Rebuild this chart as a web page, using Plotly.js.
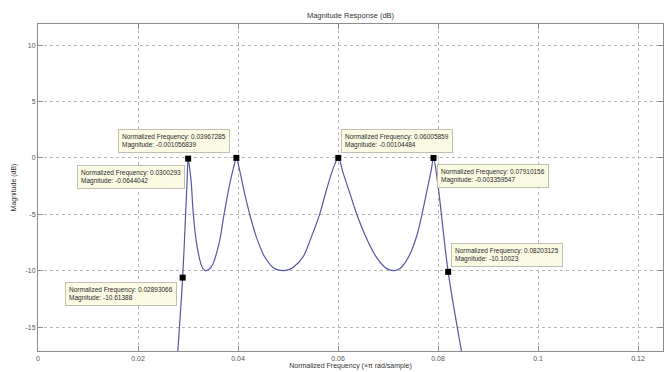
<!DOCTYPE html>
<html>
<head>
<meta charset="utf-8">
<script src="https://cdn.plot.ly/plotly-3.0.1.min.js"></script>
<style>
  html, body { margin: 0; padding: 0; background: #ffffff; }
  #chart { width: 666px; height: 372px; }
</style>
</head>
<body>
<div id="chart"></div>
<script>
// Magnitude response curve
const freq = [
  0.02790, 0.02893066, 0.02952, 0.02983, 0.0300293,
  0.03038, 0.03066, 0.03106, 0.03172, 0.03255, 0.03303, 0.03353, 0.03423, 0.03488, 0.03621, 0.03722, 0.03823, 0.03923, 0.03967285,
  0.04032, 0.04132, 0.04233, 0.04366, 0.04532, 0.04700, 0.04800, 0.04900, 0.05000, 0.05101, 0.05301, 0.05468, 0.05634, 0.05769, 0.05904, 0.06005859,
  0.06105, 0.06238, 0.06373, 0.06540, 0.06741, 0.06943, 0.07032, 0.07112, 0.07192, 0.07279, 0.07446, 0.07580, 0.07681, 0.07782, 0.07865, 0.07910156,
  0.07995, 0.08203125, 0.08485
];
const magnitude = [
  -17.5, -10.61388, -5.0, -2.0, -0.0644042,
  -1.08, -2.26, -4.98, -7.58, -9.35, -9.84, -10.0, -9.87, -9.5, -7.58, -4.98, -2.56, -0.64, -0.001056839,
  -1.08, -3.15, -4.98, -7.0, -8.77, -9.71, -9.93, -10.0, -9.93, -9.71, -8.77, -7.0, -4.98, -2.85, -0.93, -0.00104484,
  -1.37, -3.15, -4.98, -6.84, -8.62, -9.71, -9.93, -10.0, -9.92, -9.65, -8.47, -6.84, -4.98, -2.85, -1.08, -0.003359547,
  -2.26, -10.10023, -17.5
];

// Data tips
const tipFreq = [0.0300293, 0.03967285, 0.06005859, 0.07910156, 0.02893066, 0.08203125];
const tipMag = [-0.0644042, -0.001056839, -0.00104484, -0.003359547, -10.61388, -10.10023];
const tipFreqText = ["0.0300293", "0.03967285", "0.06005859", "0.07910156", "0.02893066", "0.08203125"];
const tipMagText = ["-0.0644042", "-0.001056839", "-0.00104484", "-0.003359547", "-10.61388", "-10.10023"];

// Axis ticks
const xTicks = [0, 0.02, 0.04, 0.06, 0.08, 0.1, 0.12];
const xTickLabels = ["0", "0.02", "0.04", "0.06", "0.08", "0.1", "0.12"];
const yTicks = [-15, -10, -5, 0, 5, 10];
const yTickLabels = ["-15", "-10", "-5", "0", "5", "10"];

// Box placement for each tip: [xanchor, yanchor, xshift, yshift]
const tipPlace = [
  ["right", "top", -3, -6],
  ["right", "bottom", -6, 5],
  ["left", "bottom", 3, 5],
  ["left", "top", 3, -6],
  ["right", "top", -6, -4],
  ["left", "bottom", 3, 5]
];

const FONT = "Liberation Sans, Arial, sans-serif";

const traces = [
  {
    x: freq, y: magnitude, type: "scatter", mode: "lines",
    line: { color: "#5656a6", width: 1.2, shape: "spline", smoothing: 0.9 },
    hoverinfo: "skip", showlegend: false
  },
  {
    x: tipFreq, y: tipMag, type: "scatter", mode: "markers",
    marker: { symbol: "square", size: 6, color: "#000000" },
    showlegend: false, cliponaxis: false
  }
];

const annotations = tipFreq.map((f, i) => ({
  x: f, y: tipMag[i], xref: "x", yref: "y",
  text: "Normalized Frequency: " + tipFreqText[i] + "<br>Magnitude: " + tipMagText[i],
  showarrow: false, align: "left",
  xanchor: tipPlace[i][0], yanchor: tipPlace[i][1],
  xshift: tipPlace[i][2], yshift: tipPlace[i][3],
  bgcolor: "#fbfbe4", bordercolor: "#c0c0b0", borderwidth: 1, borderpad: 3,
  font: { family: FONT, size: 6.5, color: "#2a2a2a" }
}));

const axisCommon = {
  showline: true, linecolor: "#8c8c8c", linewidth: 1, mirror: "ticks",
  ticks: "inside", ticklen: 5, tickcolor: "#8c8c8c",
  showgrid: true, gridcolor: "#b8b8b8", griddash: "dot", gridwidth: 1,
  zeroline: false,
  tickfont: { family: FONT, size: 7, color: "#555555" }
};

const layout = {
  width: 666, height: 372,
  margin: { l: 38, r: 3, t: 24, b: 21 },
  paper_bgcolor: "#ffffff", plot_bgcolor: "#ffffff",
  title: {
    text: "Magnitude Response (dB)",
    font: { family: FONT, size: 7.5, color: "#333333" },
    x: 0.5, xref: "paper", xanchor: "center",
    y: 1 - 15 / 372, yref: "container", yanchor: "middle"
  },
  xaxis: Object.assign({}, axisCommon, {
    range: [0, 0.125],
    tickvals: xTicks, ticktext: xTickLabels,
    ticklabelstandoff: 1,
    title: { text: "Normalized Frequency (×π rad/sample)", standoff: 1,
             font: { family: FONT, size: 7, color: "#333333" } }
  }),
  yaxis: Object.assign({}, axisCommon, {
    range: [-17.12, 11.87],
    tickvals: yTicks, ticktext: yTickLabels,
    title: { text: "Magnitude (dB)", standoff: 8,
             font: { family: FONT, size: 7, color: "#333333" } }
  }),
  annotations: annotations,
  showlegend: false
};

Plotly.newPlot("chart", traces, layout, { displayModeBar: false, staticPlot: true });
</script>
</body>
</html>
